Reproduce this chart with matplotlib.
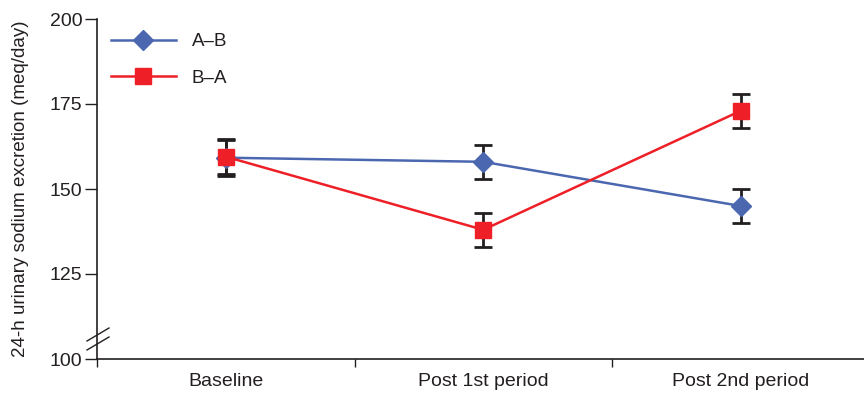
import matplotlib
matplotlib.use("Agg")
import matplotlib.pyplot as plt
from matplotlib.lines import Line2D

plt.rcParams['font.family'] = ['Liberation Sans', 'DejaVu Sans']

categories = ["Baseline", "Post 1st period", "Post 2nd period"]
ab_values = [159.2, 158, 145]
ab_err = [5.5, 5, 5]
ba_values = [159.5, 138, 173]
ba_err = [5, 5, 5]
y_ticks = [100, 125, 150, 175, 200]

blue = "#4a67b0"
red = "#ee1f27"
ink = "#231f20"
fs = 14

fig = plt.figure(figsize=(8.64, 3.94), dpi=100)
ax = fig.add_axes([97/864, 35/394, 3*257.5/864, 340/394])

xpos = [i + 0.5 for i in range(len(categories))]

ax.errorbar(xpos, ab_values, yerr=ab_err, fmt='none', ecolor=ink, elinewidth=2,
            capsize=6.5, capthick=2, zorder=2)
ax.errorbar(xpos, ba_values, yerr=ba_err, fmt='none', ecolor=ink, elinewidth=2,
            capsize=6.5, capthick=2, zorder=2)
ax.plot(xpos, ab_values, color=blue, lw=1.8, marker='D', ms=10, mfc=blue, mec=blue,
        zorder=3, label="A–B")
ax.plot(xpos, ba_values, color=red, lw=1.8, marker='s', ms=11, mfc=red, mec=red,
        zorder=4, label="B–A")

ax.set_xlim(0, 3)
ax.set_ylim(100, 200)
ax.set_yticks(y_ticks)
ax.set_xticks([0, 1, 2, 3])
ax.set_xticklabels([])
ax.set_xticks(xpos, minor=True)
ax.set_xticklabels(categories, minor=True)
ax.tick_params(axis='x', which='minor', length=0, pad=10, labelsize=fs, labelcolor=ink)
ax.tick_params(axis='x', which='major', length=6, width=1, color=ink)
ax.tick_params(axis='y', length=8.5, width=1, color=ink, labelsize=fs, labelcolor=ink, pad=2)

for s in ['top', 'right']:
    ax.spines[s].set_visible(False)
for s in ['left', 'bottom']:
    ax.spines[s].set_color(ink)
    ax.spines[s].set_linewidth(1.2)

ax.set_ylabel("24-h urinary sodium excretion (meq/day)", fontsize=13.5, color=ink, labelpad=15)

# axis break marks
trans = ax.transAxes
w = 3 * 257.5
h = 340
for dy in (0, 9):
    x0, y0 = (87 - 97) / w, (359 - 341 - dy) / h
    x1, y1 = (109 - 97) / w, (359 - 328 - dy) / h
    ax.add_line(Line2D([x0, x1], [y0, y1], transform=trans, color=ink, lw=1, clip_on=False))

leg = ax.legend(loc='upper left', frameon=False, fontsize=13.5, handlelength=3.45,
                labelspacing=1.05, borderaxespad=0.4, borderpad=0.35, handletextpad=0.85)
for t in leg.get_texts():
    t.set_color(ink)

fig.savefig("out.png", dpi=100)
